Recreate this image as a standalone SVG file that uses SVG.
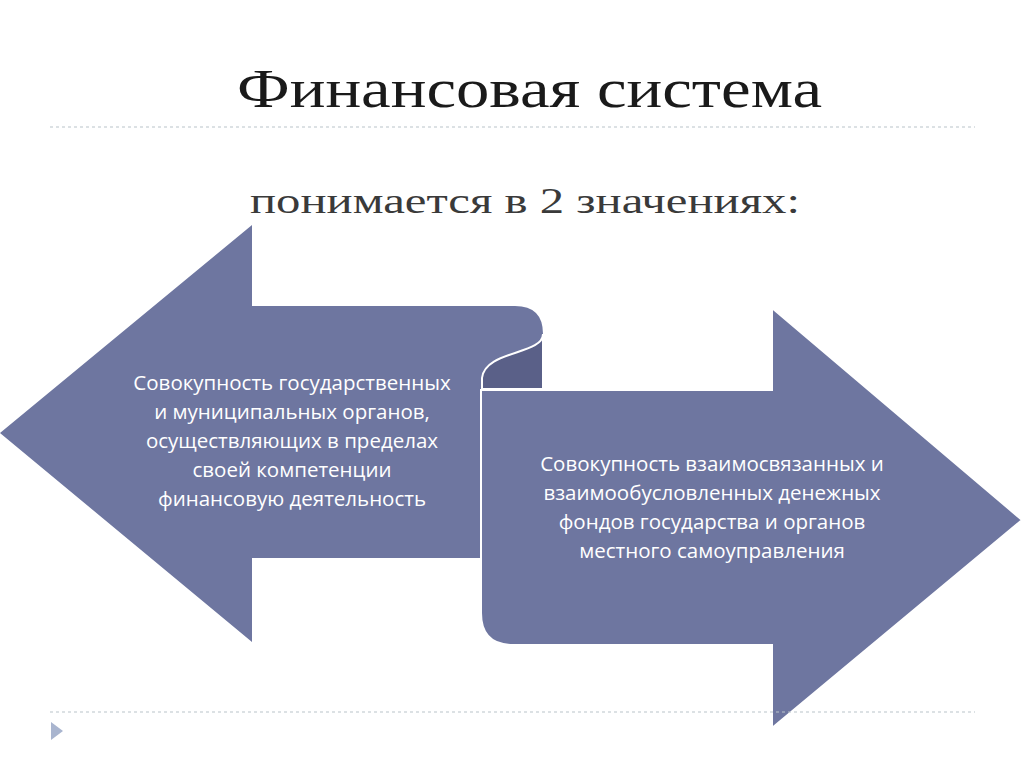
<svg xmlns="http://www.w3.org/2000/svg" width="1024" height="767" viewBox="0 0 1024 767">
<style>
.t{font-family:"Liberation Serif",serif;fill:#1a1a1a}
.b{font-family:"Open Sans","DejaVu Sans",sans-serif;font-size:20.5px;fill:#fff;text-anchor:middle}
.a{fill:#6e76a0}
.d{stroke:#b9c3c9;stroke-width:1.2;stroke-dasharray:3 3}
</style>
<rect width="1024" height="767" fill="#fff"/>
<text class="t" x="237" y="107" font-size="54" textLength="585" lengthAdjust="spacingAndGlyphs">Финансовая система</text>
<line class="d" x1="50" y1="127" x2="975" y2="127"/>
<text class="t" x="250" y="213" font-size="36" textLength="550" lengthAdjust="spacingAndGlyphs" style="fill:#3a3a3a">понимается в 2 значениях:</text>
<g id="left-arrow">
<path class="a" d="M0,433 L252,225 L252,306 L515,306 Q543,306 543,334 L543,390 L481,390 L481,558 L252,558 L252,642 Z"/>
<text class="b"><tspan x="292" y="390">Совокупность государственных</tspan><tspan x="292" y="419">и муниципальных органов,</tspan><tspan x="292" y="448">осуществляющих в пределах</tspan><tspan x="292" y="477">своей компетенции</tspan><tspan x="292" y="506">финансовую деятельность</tspan></text>
</g>
<g id="right-arrow">
<path class="a" d="M481,390 L772,390 L772,308 L1022,520 L772,728 L772,645 L513,645 Q481,645 481,613 Z" stroke="#fff" stroke-width="2"/>
<path d="M543,334 C543,355 485,350 482,378 L482,389 L543,389 Z" fill="#5a6088" stroke="#fff" stroke-width="2"/>
<text class="b"><tspan x="712" y="471">Совокупность взаимосвязанных и</tspan><tspan x="712" y="500">взаимообусловленных денежных</tspan><tspan x="712" y="529">фондов государства и органов</tspan><tspan x="712" y="558">местного самоуправления</tspan></text>
</g>
<line class="d" x1="50" y1="712" x2="975" y2="712"/>
<path d="M51,722 L63,731 L51,740 Z" fill="#a9b5cf"/>
</svg>
